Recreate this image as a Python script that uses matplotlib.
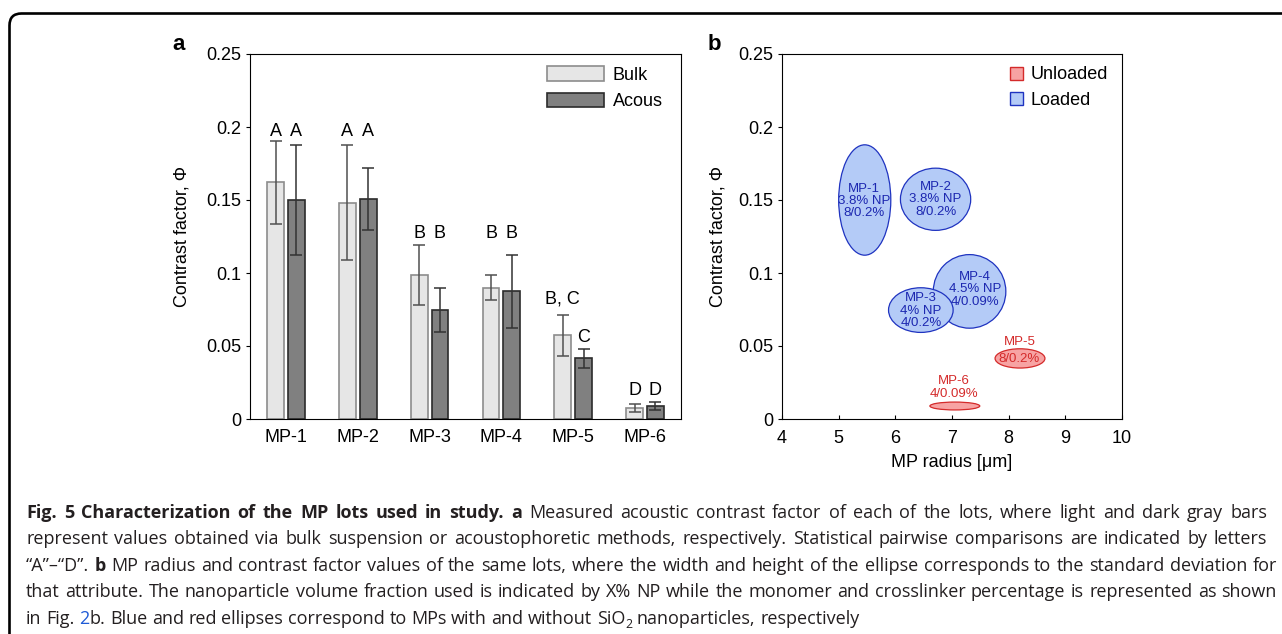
import numpy as np
import matplotlib
matplotlib.use("Agg")
import matplotlib.pyplot as plt
from matplotlib.patches import Ellipse, Patch, FancyBboxPatch
from matplotlib.transforms import IdentityTransform

# ---- data ----
lots = ["MP-1", "MP-2", "MP-3", "MP-4", "MP-5", "MP-6"]
bulk = [0.162, 0.148, 0.0985, 0.090, 0.0573, 0.0075]
bulk_err = [0.0285, 0.0394, 0.0204, 0.0086, 0.0140, 0.0030]
acous = [0.150, 0.1505, 0.0746, 0.0874, 0.0415, 0.0089]
acous_err = [0.0378, 0.0213, 0.0153, 0.0252, 0.0066, 0.0027]

bulk_letters = ["A", "A", "B", "B", "B, C", "D"]
acous_letters = ["A", "A", "B", "B", "C", "D"]
bulk_letter_y = [0.194, 0.194, 0.124, 0.124, 0.079, 0.0167]
acous_letter_y = [0.194, 0.194, 0.124, 0.124, 0.053, 0.0167]

# panel b: radius (mean, sd); contrast factor uses the acoustophoretic values
radius = [5.46, 6.71, 6.45, 7.31, 8.20, 7.05]
radius_sd = [0.46, 0.62, 0.57, 0.64, 0.44, 0.44]
loaded = [True, True, True, True, False, False]

ell_labels = ["MP-1\n3.8% NP\n8/0.2%", "MP-2\n3.8% NP\n8/0.2%", "MP-3\n4% NP\n4/0.2%",
              "MP-4\n4.5% NP\n4/0.09%", "MP-5", "8/0.2%", "MP-6\n4/0.09%"]
ell_label_lot = [0, 1, 2, 3, 4, 4, 5]
ell_label_x = [5.45, 6.71, 6.45, 7.41, 8.19, 8.19, 7.04]
ell_label_y = [0.1493, 0.1505, 0.0742, 0.089, 0.0527, 0.0411, 0.0215]

caption = [
    [("Fig. 5 Characterization of the MP lots used in study. a", "b"),
     (" Measured acoustic contrast factor of each of the lots, where light and dark gray bars", "r")],
    [("represent values obtained via bulk suspension or acoustophoretic methods, respectively. "
      "Statistical pairwise comparisons are indicated by letters", "r")],
    [("\u201cA\u201d\u2013\u201cD\u201d.", "r"), (" b", "b"),
     (" MP radius and contrast factor values of the same lots, where the width and height of the "
      "ellipse corresponds to the standard deviation for", "r")],
    [("that attribute. The nanoparticle volume fraction used is indicated by X% NP while the monomer "
      "and crosslinker percentage is represented as shown", "r")],
    [("in Fig. ", "r"), ("2", "blue"),
     ("b. Blue and red ellipses correspond to MPs with and without SiO", "r"), ("2", "sub"),
     (" nanoparticles, respectively", "r")],
]
caption_right = [1267, 1267, 1277, 1277, None]

W, H = 1282, 634
plt.rcParams['font.family'] = ['Liberation Sans', 'DejaVu Sans']
fig = plt.figure(figsize=(W / 100, H / 100), dpi=100)

BLUE_FILL, BLUE_EDGE, BLUE_TXT = '#b4cbf7', '#1f33c0', '#1c27b0'
RED_FILL, RED_EDGE = '#f7a3a3', '#d42a2a'
FS = 13

# ---- panel a ----
ax1 = fig.add_axes([250 / W, 1 - 419 / H, 431 / W, 365 / H])
x = np.arange(1, len(lots) + 1)
off, bw = 0.145, 0.235
ax1.bar(x - off, bulk, bw, color='#e6e6e6', edgecolor='#8c8c8c', lw=1.2, label='Bulk', zorder=2)
ax1.bar(x + off, acous, bw, color='#808080', edgecolor='#2b2b2b', lw=1.2, label='Acous', zorder=2)
ax1.errorbar(x - off, bulk, yerr=bulk_err, fmt='none', ecolor='#505050', elinewidth=1.1,
             capsize=4, capthick=1.1, zorder=3)
ax1.errorbar(x + off, acous, yerr=acous_err, fmt='none', ecolor='#333333', elinewidth=1.1,
             capsize=4, capthick=1.1, zorder=3)
for i in range(len(lots)):
    ax1.text(x[i] - off, bulk_letter_y[i], bulk_letters[i], ha='center', va='baseline', fontsize=FS)
    ax1.text(x[i] + off, acous_letter_y[i], acous_letters[i], ha='center', va='baseline', fontsize=FS)
ax1.set_xlim(0.5, 6.5)
ax1.set_ylim(0, 0.25)
ax1.set_xticks(x)
ax1.set_xticklabels(lots)
ax1.set_yticks([0, 0.05, 0.1, 0.15, 0.2, 0.25])
ax1.set_yticklabels(["0", "0.05", "0.1", "0.15", "0.2", "0.25"])
ax1.tick_params(axis='y', direction='out', length=3, width=0.8, labelsize=FS, pad=3)
ax1.tick_params(axis='x', length=0, labelsize=FS, pad=7)
ax1.set_ylabel("Contrast factor, \u03a6", fontsize=FS)
ax1.yaxis.set_label_coords(-0.139, 0.5)
ax1.legend(loc='upper left', bbox_to_anchor=((547 - 250) / 431, 0.966), frameon=False,
           handlelength=3.15, handleheight=0.85, handletextpad=0.5, labelspacing=0.48,
           borderpad=0, borderaxespad=0, fontsize=FS)
for s in ax1.spines.values():
    s.set_linewidth(0.8)

# ---- panel b ----
ax2 = fig.add_axes([782 / W, 1 - 419 / H, 340 / W, 365 / H])
for i in range(len(lots)):
    fc, ec = (BLUE_FILL, BLUE_EDGE) if loaded[i] else (RED_FILL, RED_EDGE)
    ax2.add_patch(Ellipse((radius[i], acous[i]), 2 * radius_sd[i], 2 * acous_err[i],
                          facecolor=fc, edgecolor=ec, lw=0.9, zorder=3 if i == 2 else 2))
for lab, k, lx, ly in zip(ell_labels, ell_label_lot, ell_label_x, ell_label_y):
    ax2.text(lx, ly, lab, ha='center', va='center', fontsize=9.5, linespacing=1.05,
             color=BLUE_TXT if loaded[k] else RED_EDGE, zorder=4)
ax2.set_xlim(4, 10)
ax2.set_ylim(0, 0.25)
ax2.set_xticks(range(4, 11))
ax2.set_yticks([0, 0.05, 0.1, 0.15, 0.2, 0.25])
ax2.set_yticklabels(["0", "0.05", "0.1", "0.15", "0.2", "0.25"])
ax2.tick_params(axis='y', direction='out', length=3, width=0.8, labelsize=FS, pad=3)
ax2.tick_params(axis='x', direction='in', length=3, width=0.8, labelsize=FS, pad=8)
ax2.set_ylabel("Contrast factor, \u03a6", fontsize=FS)
ax2.yaxis.set_label_coords(-0.162, 0.5)
ax2.set_xlabel("MP radius [\u03bcm]", fontsize=FS)
ax2.xaxis.set_label_coords(0.5, -0.097)
handles = [Patch(facecolor=RED_FILL, edgecolor=RED_EDGE, label='Unloaded'),
           Patch(facecolor=BLUE_FILL, edgecolor=BLUE_EDGE, label='Loaded')]
ax2.legend(handles=handles, loc='upper left', bbox_to_anchor=((1010 - 782) / 340, 0.966),
           frameon=False, handlelength=0.72, handleheight=0.72, handletextpad=0.4,
           labelspacing=0.48, borderpad=0, borderaxespad=0, fontsize=FS)
for s in ax2.spines.values():
    s.set_linewidth(0.8)

fig.text(179 / W, 1 - 44 / H, "a", fontsize=16, fontweight='bold', ha='center', va='center')
fig.text(714 / W, 1 - 44 / H, "b", fontsize=16, fontweight='bold', ha='center', va='center')

# ---- outer rounded frame ----
frame = FancyBboxPatch((9.5, -40), 1400, H - 13.5 + 40, boxstyle="round,pad=0,rounding_size=12",
                       transform=IdentityTransform(), fill=False, lw=1.9, ec='black')
fig.add_artist(frame)

# ---- justified caption ----
renderer = fig.canvas.get_renderer()


def run_props(style, size):
    p = dict(family=['Open Sans', 'DejaVu Sans'], fontsize=size, color='#231f20')
    if style == 'b':
        p['fontweight'] = 'bold'
    if style == 'blue':
        p['color'] = '#1f5bd6'
    if style == 'sub':
        p['fontsize'] = size * 0.68
    return p


def text_width(s, props):
    t = fig.text(0, 0, s, transform=IdentityTransform(), **props)
    w = t.get_window_extent(renderer).width
    t.remove()
    return w


def words_of(runs):
    words = [[]]
    for text, style in runs:
        parts = text.split(" ")
        for k, p in enumerate(parts):
            if k > 0:
                words.append([])
            if p:
                words[-1].append((p, style))
    return [w for w in words if w]


cap_words = [words_of(r) for r in caption]
x0 = 26


def line_layout(size):
    sp = text_width("a a", run_props('r', size)) - text_width("aa", run_props('r', size))
    out = []
    for words in cap_words:
        ws = [[text_width(t, run_props(st, size)) for t, st in w] for w in words]
        out.append((ws, sp))
    return out


size = 13.0
lay = line_layout(size)
ratio = min((caption_right[i] - x0) / (sum(sum(w) for w in lay[i][0]) + lay[i][1] * (len(lay[i][0]) - 1))
            for i in range(4))
if ratio < 1:
    size = size * ratio * 0.99
    lay = line_layout(size)

base0, step = 517.5, 26.6
for i, words in enumerate(cap_words):
    ws, sp = lay[i]
    total = sum(sum(w) for w in ws)
    if caption_right[i] is not None:
        gap = (caption_right[i] - x0 - total) / (len(words) - 1)
    else:
        gap = sp
    yb = H - (base0 + i * step)
    xc = x0
    for w, wl in zip(words, ws):
        for (t, st), rw in zip(w, wl):
            fig.text(xc, yb - (4 if st == 'sub' else 0), t, transform=IdentityTransform(),
                     va='baseline', ha='left', **run_props(st, size))
            xc += rw
        xc += gap

fig.savefig("out.png", dpi=100)
